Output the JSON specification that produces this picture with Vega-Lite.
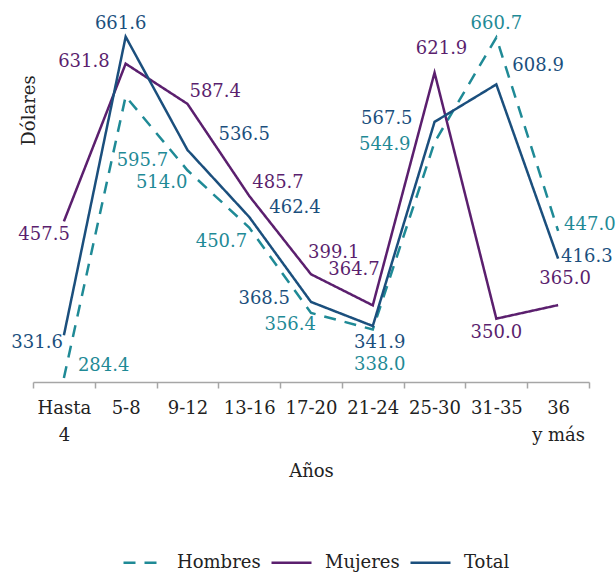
{
  "$schema": "https://vega.github.io/schema/vega-lite/v6.json",
  "width": 556,
  "height": 380,
  "autosize": {"type": "none"},
  "padding": {"left": 33, "top": 2, "right": 27, "bottom": 190},
  "background": "white",
  "config": {
    "view": {"stroke": null},
    "font": "DejaVu Serif",
    "text": {"font": "DejaVu Serif", "fontSize": 18}
  },
  "data": {
    "values": [
      {"serie": "Hombres", "edad": "Hasta 4", "valor": 284.4},
      {"serie": "Hombres", "edad": "5-8", "valor": 595.7},
      {"serie": "Hombres", "edad": "9-12", "valor": 514.0},
      {"serie": "Hombres", "edad": "13-16", "valor": 450.7},
      {"serie": "Hombres", "edad": "17-20", "valor": 356.4},
      {"serie": "Hombres", "edad": "21-24", "valor": 338.0},
      {"serie": "Hombres", "edad": "25-30", "valor": 544.9},
      {"serie": "Hombres", "edad": "31-35", "valor": 660.7},
      {"serie": "Hombres", "edad": "36 y más", "valor": 447.0},
      {"serie": "Mujeres", "edad": "Hasta 4", "valor": 457.5},
      {"serie": "Mujeres", "edad": "5-8", "valor": 631.8},
      {"serie": "Mujeres", "edad": "9-12", "valor": 587.4},
      {"serie": "Mujeres", "edad": "13-16", "valor": 485.7},
      {"serie": "Mujeres", "edad": "17-20", "valor": 399.1},
      {"serie": "Mujeres", "edad": "21-24", "valor": 364.7},
      {"serie": "Mujeres", "edad": "25-30", "valor": 621.9},
      {"serie": "Mujeres", "edad": "31-35", "valor": 350.0},
      {"serie": "Mujeres", "edad": "36 y más", "valor": 365.0},
      {"serie": "Total", "edad": "Hasta 4", "valor": 331.6},
      {"serie": "Total", "edad": "5-8", "valor": 661.6},
      {"serie": "Total", "edad": "9-12", "valor": 536.5},
      {"serie": "Total", "edad": "13-16", "valor": 462.4},
      {"serie": "Total", "edad": "17-20", "valor": 368.5},
      {"serie": "Total", "edad": "21-24", "valor": 341.9},
      {"serie": "Total", "edad": "25-30", "valor": 567.5},
      {"serie": "Total", "edad": "31-35", "valor": 608.9},
      {"serie": "Total", "edad": "36 y más", "valor": 416.3}
    ]
  },
  "encoding": {
    "x": {
      "field": "edad",
      "type": "nominal",
      "sort": ["Hasta 4", "5-8", "9-12", "13-16", "17-20", "21-24", "25-30", "31-35", "36 y más"],
      "scale": {"type": "band", "paddingInner": 0, "paddingOuter": 0},
      "axis": {
        "title": "Años",
        "titleFont": "DejaVu Serif",
        "titleFontSize": 18,
        "titleFontWeight": "normal",
        "titleColor": "#222222",
        "titleBaseline": "alphabetic",
        "titleY": 94,
        "labelAngle": 0,
        "labelFont": "DejaVu Serif",
        "labelFontSize": 18,
        "labelColor": "#222222",
        "labelBaseline": "alphabetic",
        "labelPadding": 25,
        "labelLineHeight": 27,
        "labelExpr": "datum.label == 'Hasta 4' ? ['Hasta', '4'] : datum.label == '36 y más' ? ['36', 'y más'] : datum.label",
        "tickBand": "extent",
        "tickSize": 6,
        "tickColor": "#a6a6a6",
        "tickWidth": 1.5,
        "domainColor": "#a6a6a6",
        "domainWidth": 1.5,
        "grid": false
      }
    },
    "y": {
      "field": "valor",
      "type": "quantitative",
      "scale": {"domain": [280, 700], "nice": false, "zero": false},
      "axis": {
        "title": "Dólares",
        "titleFont": "DejaVu Serif",
        "titleFontSize": 18,
        "titleFontWeight": "normal",
        "titleColor": "#222222",
        "titleBaseline": "alphabetic",
        "titleX": 1,
        "titleY": 108,
        "labels": false,
        "ticks": false,
        "domain": false,
        "grid": false
      }
    }
  },
  "layer": [
    {
      "mark": {"type": "line", "strokeWidth": 2.5},
      "encoding": {
        "color": {
          "field": "serie",
          "type": "nominal",
          "scale": {"domain": ["Hombres", "Mujeres", "Total"], "range": ["#1f8a96", "#5b1f6e", "#1b4f7d"]},
          "legend": {
            "title": null,
            "orient": "none",
            "direction": "horizontal",
            "legendX": 89,
            "legendY": 539,
            "padding": 0,
            "symbolType": "stroke",
            "symbolSize": 1600,
            "symbolStrokeWidth": 2.5,
            "labelFont": "DejaVu Serif",
            "labelFontSize": 18,
            "labelColor": "#222222",
            "labelOffset": 12,
            "columnPadding": 5
          }
        },
        "strokeDash": {
          "field": "serie",
          "type": "nominal",
          "scale": {"domain": ["Hombres", "Mujeres", "Total"], "range": [[12, 9], [1, 0], [1, 0]]},
          "legend": {
            "title": null,
            "orient": "none",
            "direction": "horizontal",
            "legendX": 89,
            "legendY": 539,
            "padding": 0,
            "symbolType": "stroke",
            "symbolSize": 1600,
            "symbolStrokeWidth": 2.5,
            "labelFont": "DejaVu Serif",
            "labelFontSize": 18,
            "labelColor": "#222222",
            "labelOffset": 12,
            "columnPadding": 5
          }
        }
      }
    },
    {
      "encoding": {
        "text": {"field": "valor", "type": "quantitative", "format": ".1f"},
        "color": {"field": "serie", "type": "nominal", "legend": null}
      },
      "layer": [
        {"transform": [{"filter": "datum.serie == 'Hombres' && datum.edad == 'Hasta 4'"}], "mark": {"type": "text", "align": "left", "dx": 14, "dy": -12}},
        {"transform": [{"filter": "datum.serie == 'Hombres' && datum.edad == '5-8'"}], "mark": {"type": "text", "align": "left", "dx": -9, "dy": 65}},
        {"transform": [{"filter": "datum.serie == 'Hombres' && datum.edad == '9-12'"}], "mark": {"type": "text", "align": "right", "dx": 0, "dy": 13}},
        {"transform": [{"filter": "datum.serie == 'Hombres' && datum.edad == '13-16'"}], "mark": {"type": "text", "align": "right", "dx": -2, "dy": 14}},
        {"transform": [{"filter": "datum.serie == 'Hombres' && datum.edad == '17-20'"}], "mark": {"type": "text", "align": "right", "dx": 5, "dy": 12}},
        {"transform": [{"filter": "datum.serie == 'Hombres' && datum.edad == '21-24'"}], "mark": {"type": "text", "align": "center", "dx": 7, "dy": 35}},
        {"transform": [{"filter": "datum.serie == 'Hombres' && datum.edad == '25-30'"}], "mark": {"type": "text", "align": "right", "dx": -24, "dy": 3}},
        {"transform": [{"filter": "datum.serie == 'Hombres' && datum.edad == '31-35'"}], "mark": {"type": "text", "align": "center", "dx": 0, "dy": -14}},
        {"transform": [{"filter": "datum.serie == 'Hombres' && datum.edad == '36 y más'"}], "mark": {"type": "text", "align": "left", "dx": 6, "dy": -6}},
        {"transform": [{"filter": "datum.serie == 'Mujeres' && datum.edad == 'Hasta 4'"}], "mark": {"type": "text", "align": "right", "dx": 6, "dy": 14}},
        {"transform": [{"filter": "datum.serie == 'Mujeres' && datum.edad == '5-8'"}], "mark": {"type": "text", "align": "right", "dx": -16, "dy": -2}},
        {"transform": [{"filter": "datum.serie == 'Mujeres' && datum.edad == '9-12'"}], "mark": {"type": "text", "align": "left", "dx": 2, "dy": -12}},
        {"transform": [{"filter": "datum.serie == 'Mujeres' && datum.edad == '13-16'"}], "mark": {"type": "text", "align": "left", "dx": 3, "dy": -13}},
        {"transform": [{"filter": "datum.serie == 'Mujeres' && datum.edad == '17-20'"}], "mark": {"type": "text", "align": "left", "dx": -3, "dy": -21}},
        {"transform": [{"filter": "datum.serie == 'Mujeres' && datum.edad == '21-24'"}], "mark": {"type": "text", "align": "right", "dx": 7, "dy": -35}},
        {"transform": [{"filter": "datum.serie == 'Mujeres' && datum.edad == '25-30'"}], "mark": {"type": "text", "align": "center", "dx": 7, "dy": -24}},
        {"transform": [{"filter": "datum.serie == 'Mujeres' && datum.edad == '31-35'"}], "mark": {"type": "text", "align": "center", "dx": 0, "dy": 14}},
        {"transform": [{"filter": "datum.serie == 'Mujeres' && datum.edad == '36 y más'"}], "mark": {"type": "text", "align": "center", "dx": 7, "dy": -26}},
        {"transform": [{"filter": "datum.serie == 'Total' && datum.edad == 'Hasta 4'"}], "mark": {"type": "text", "align": "right", "dx": -1, "dy": 8}},
        {"transform": [{"filter": "datum.serie == 'Total' && datum.edad == '5-8'"}], "mark": {"type": "text", "align": "center", "dx": -5, "dy": -13}},
        {"transform": [{"filter": "datum.serie == 'Total' && datum.edad == '9-12'"}], "mark": {"type": "text", "align": "left", "dx": 31, "dy": -15}},
        {"transform": [{"filter": "datum.serie == 'Total' && datum.edad == '13-16'"}], "mark": {"type": "text", "align": "left", "dx": 20, "dy": -9}},
        {"transform": [{"filter": "datum.serie == 'Total' && datum.edad == '17-20'"}], "mark": {"type": "text", "align": "right", "dx": -21, "dy": -3}},
        {"transform": [{"filter": "datum.serie == 'Total' && datum.edad == '21-24'"}], "mark": {"type": "text", "align": "center", "dx": 7, "dy": 17}},
        {"transform": [{"filter": "datum.serie == 'Total' && datum.edad == '25-30'"}], "mark": {"type": "text", "align": "right", "dx": -22, "dy": -3}},
        {"transform": [{"filter": "datum.serie == 'Total' && datum.edad == '31-35'"}], "mark": {"type": "text", "align": "left", "dx": 16, "dy": -18}},
        {"transform": [{"filter": "datum.serie == 'Total' && datum.edad == '36 y más'"}], "mark": {"type": "text", "align": "left", "dx": 3, "dy": -2}}
      ]
    }
  ]
}
